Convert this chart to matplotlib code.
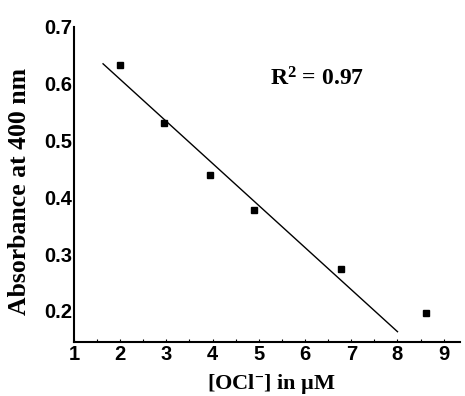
import numpy as np
import matplotlib.pyplot as plt
from matplotlib.ticker import MultipleLocator

# OCl- concentration (uM) vs absorbance at 400 nm
conc = [2.0, 2.95, 3.95, 4.9, 6.78, 8.62]
absorb = [0.633, 0.531, 0.439, 0.378, 0.274, 0.196]
# linear fit over the first five points, drawn across this x range
fit_range = [1.63, 8.0]
r2_label = "0.97"

plt.rcParams["mathtext.fontset"] = "custom"
plt.rcParams["mathtext.rm"] = "Liberation Serif:bold"
plt.rcParams["mathtext.it"] = "Liberation Serif:bold"
plt.rcParams["mathtext.bf"] = "Liberation Serif:bold"

fig = plt.figure(figsize=(4.65, 3.96), dpi=100)
ax = fig.add_axes([0.159, 0.136, 0.83, 0.796])

ax.plot(conc, absorb, "s", color="black", markersize=5)

slope, icpt = np.polyfit(conc[:5], absorb[:5], 1)
fx = np.array(fit_range)
ax.plot(fx, slope * fx + icpt, color="black", lw=1.0)

ax.text(5.24, 0.596, "R$^{2}$ = " + r2_label, fontsize=17,
        family="Liberation Serif", weight="bold", va="baseline")

ax.set_xlim(1, 9.35)
ax.set_ylim(0.145, 0.7)
ax.set_xticks(range(1, 10))
ax.set_yticks([0.2, 0.3, 0.4, 0.5, 0.6, 0.7])
ax.set_yticklabels(["0.2", "0.3", "0.4", "0.5", "0.6", "0.7"])
ax.xaxis.set_minor_locator(MultipleLocator(0.5))

for s in ["top", "right"]:
    ax.spines[s].set_visible(False)
for s in ["left", "bottom"]:
    ax.spines[s].set_linewidth(1.5)

ax.tick_params(axis="x", which="both", direction="in", length=2.5, width=0.8, pad=2)
ax.tick_params(axis="y", which="both", length=0, pad=1)
for lab in ax.get_xticklabels() + ax.get_yticklabels():
    lab.set_family("Liberation Sans")
    lab.set_weight("bold")
    lab.set_fontsize(14.5)

ax.set_ylabel("Absorbance at 400 nm", family="Liberation Serif", weight="bold",
              fontsize=18.5)
ax.yaxis.set_label_coords(-0.11, 0.479)
ax.set_xlabel("[OCl$^{-}$] in µM", family="Liberation Serif", weight="bold",
              fontsize=16)
ax.xaxis.set_label_coords(0.512, -0.096)

fig.savefig("out.png", dpi=100)
